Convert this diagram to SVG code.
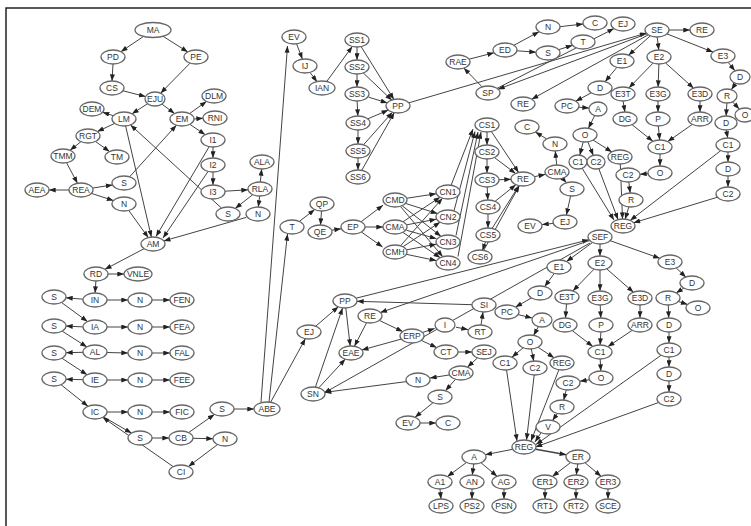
<svg xmlns="http://www.w3.org/2000/svg" width="751" height="526" viewBox="0 0 751 526">
<defs>
<style>
.n ellipse{fill:#fff;stroke:#666;stroke-width:1.3}
.n text{font-family:"Liberation Sans",Arial,sans-serif;font-size:8.5px;fill:#333;text-anchor:middle}
#edges path{fill:none;stroke:#444;stroke-width:1;marker-end:url(#ah)}
</style>
<marker id="ah" viewBox="0 0 8 6" refX="8" refY="3" markerWidth="7" markerHeight="5" orient="auto" markerUnits="userSpaceOnUse"><path d="M0,0 L8,3 L0,6 z" fill="#222"/></marker>
</defs>
<rect x="0" y="0" width="751" height="526" fill="#fff"/>
<rect x="6" y="8" width="800" height="600" fill="none" stroke="#222" stroke-width="1.5"/>
<g id="edges">
<path d="M143.6,36.4L120.9,51.7"/><path d="M163,36.3L187.8,51.9"/><path d="M113,64L112,81"/>
<path d="M123,90.8L145.6,96.6"/><path d="M190.1,63.1L160.6,93.2"/><path d="M147.6,103.7L132,113.8"/>
<path d="M161.9,104.1L174.6,113.5"/><path d="M113.4,115.7L102.6,112.3"/><path d="M114.7,123.4L97.3,131.6"/>
<path d="M80.9,141.7L70.1,150.3"/><path d="M95.5,141.5L109.5,151.5"/><path d="M66.5,162.7L77.5,183.3"/>
<path d="M69,190L49,190"/><path d="M92.5,188.1L112.5,184.9"/><path d="M91.5,193.4L113.5,200.6"/>
<path d="M189.5,113.6L206.5,101.4"/><path d="M194,119L203,118.2"/><path d="M189.8,124.3L205.2,134.7"/>
<path d="M213,147L213,158"/><path d="M213,172L213,185"/><path d="M225,191.2L248,189.8"/>
<path d="M260.3,182L261.7,169"/><path d="M252.8,194.6L235.2,208.4"/><path d="M259.7,196L258.3,207"/>
<path d="M129.6,176.8L176.4,125.2"/><path d="M125.6,125.9L151.4,237.1"/><path d="M221.5,208.1L130.5,124.9"/>
<path d="M128.7,210.4L148.3,237.6"/><path d="M209.2,146.6L156,236.5"/><path d="M208.1,171.4L163,238"/>
<path d="M246.2,217.4L163.8,240.9"/><path d="M144.1,248.7L104.9,269.3"/><path d="M108,274L124,274"/>
<path d="M95.9,281L95.1,293"/><path d="M83,299.2L66,297.8"/><path d="M107,300L128,300"/><path d="M152,300L170,300"/>
<path d="M61.5,302.5L87.5,321.5"/><path d="M83,326.9L66,326.1"/><path d="M107,327L128,327"/><path d="M152,327L170,327"/>
<path d="M62.1,331.1L86.9,346.9"/><path d="M83,352.3L66,352.7"/><path d="M107,352.5L128,353"/><path d="M152,353L170,353"/>
<path d="M61.9,358.2L87.1,374.8"/><path d="M83,379.7L66,379.3"/><path d="M107,380L128,380"/><path d="M152,380L170,380"/>
<path d="M61,384.7L88,406.3"/><path d="M107,412L128,412"/><path d="M152,412L170,412"/>
<path d="M103.5,416.9L131.5,433.1"/><path d="M152,438L169,438"/><path d="M188.6,432.6L214.4,414.4"/>
<path d="M193,438.3L213,438.7"/><path d="M217.6,444.5L188.4,466.5"/><path d="M173.3,466.7L102.7,417.3"/>
<path d="M234,409L254,409"/><path d="M261,402L287.5,46"/><path d="M269,402L287.5,234"/><path d="M270.6,402.3L305.4,338.7"/>
<path d="M296.6,43.9L302.4,59.1"/><path d="M309.9,72.3L317.1,81.7"/><path d="M326.7,81.5L352.3,46.5"/>
<path d="M357,47L357,60"/><path d="M357,74L357,87"/><path d="M357.1,101L357.9,116"/><path d="M358,130L358,144"/><path d="M358,158L358,170"/>
<path d="M361.1,46.6L393.9,99.4"/><path d="M363.1,72.8L391.9,100.2"/><path d="M368.7,97.2L387.3,102.9"/>
<path d="M367.7,118.9L388.3,110.1"/><path d="M363.5,144.8L392.5,112.2"/><path d="M361.7,170.4L394.3,112.6"/>
<path d="M408.6,102.9L646.4,33.1"/><path d="M646.9,33.8L498.1,89.2"/><path d="M497,88.4L614,28.6"/>
<path d="M482.2,87L463.8,68"/><path d="M469,59.2L494,52.8"/><path d="M513.9,45.3L539.1,31.7"/><path d="M517,50.8L536,52.2"/>
<path d="M560,26.7L583,24"/><path d="M558.5,49.7L572.5,45.3"/><path d="M669,30L690,30"/><path d="M648.3,34.8L531.7,99.2"/>
<path d="M650.5,35.7L628.5,55.3"/><path d="M657.2,37L658.8,50"/><path d="M667,33.9L713,52.1"/>
<path d="M728.1,62.3L734.9,70.7"/><path d="M735.6,83.4L731.4,89.6"/><path d="M732.7,102L739.3,109"/>
<path d="M726.9,103L726.1,116"/><path d="M726.2,130L727.8,138"/><path d="M728,152L728,162"/><path d="M728,176L728,187"/>
<path d="M616.9,67.3L605.1,81.7"/><path d="M591.3,92.8L575.7,101.2"/><path d="M579,107.2L589,108.1"/>
<path d="M594.7,115.5L588.4,128.3"/><path d="M583.2,141.8L579.8,155.2"/><path d="M587.8,141.7L593.3,155.4"/><path d="M593.1,140.1L611.9,151.9"/>
<path d="M653.1,63.1L628.9,87.9"/><path d="M658.9,64L658.1,87"/><path d="M665.4,62.8L693.6,88.2"/>
<path d="M623.1,101L624.9,112"/><path d="M658,101L658,112"/><path d="M700,101L700,112"/>
<path d="M632.1,124.7L652.9,141.3"/><path d="M658.3,126L659.7,140"/><path d="M692.3,124.4L667.7,141.6"/>
<path d="M660,154L660,166"/><path d="M648,173.7L640,174.3"/><path d="M628.8,182L630.2,193"/><path d="M628.9,206.7L625.1,219.3"/>
<path d="M582,168L614,220"/><path d="M598.7,168.4L618,219.5"/><path d="M620.3,164L622.5,219"/>
<path d="M720.8,150.6L630.2,220.4"/><path d="M717.5,197.2L633.5,222.8"/>
<path d="M299.3,221.4L314.7,209.6"/><path d="M321.5,211L320.5,225"/><path d="M332,230.2L341,228.8"/>
<path d="M361,221.8L383,205.2"/><path d="M365,227L383,227"/><path d="M361.4,232L382.6,247"/>
<path d="M406.9,198.2L436.1,193.8"/><path d="M405.5,203.4L437.5,213.6"/><path d="M402.1,205.7L440.9,236.3"/><path d="M400.3,206.3L442.7,256.7"/>
<path d="M402.9,221.8L440.1,197.2"/><path d="M406.8,224.8L436.2,219.2"/><path d="M406.6,230.3L436.4,238.7"/><path d="M402.8,232.3L440.2,257.7"/>
<path d="M400.5,245.8L442.5,198.2"/><path d="M402.9,246.8L440.1,222.2"/><path d="M406.8,249.8L436.2,244.2"/><path d="M406.7,254.4L436.3,260.6"/>
<path d="M451,185.5L473,129"/><path d="M454,210.8L475,131.5"/><path d="M456,235.5L478,132"/><path d="M458,256.5L481,132"/>
<path d="M487,132L487,145"/><path d="M487,159L487,173"/><path d="M487.2,187L487.8,200"/><path d="M488,214L488,228"/><path d="M485.6,241.6L482.4,250.4"/>
<path d="M491.4,131.5L518.6,172.5"/><path d="M494.4,157.5L515.6,173.5"/><path d="M499,179.7L511,179.3"/>
<path d="M495.1,201.3L515.9,184.7"/><path d="M492.1,228.4L518.9,185.6"/><path d="M483.7,250.3L519.3,185.7"/>
<path d="M534.8,176.6L545.2,174.4"/><path d="M556.7,165L555.3,151"/><path d="M546.6,138.9L535.4,132.1"/>
<path d="M562.5,178.2L566.5,182.8"/><path d="M570.6,195.9L566.4,215.1"/><path d="M553,223.4L542,224.6"/>
<path d="M592.5,242.5L566.5,261.5"/><path d="M600,244L600,256"/><path d="M610.2,240.7L659.8,258.3"/>
<path d="M676.1,267.8L685.9,277.2"/><path d="M683.9,288.1L676.1,292.9"/><path d="M678.4,301.5L687.6,304.5"/>
<path d="M668.3,305L668.7,318"/><path d="M669,332L669,343"/><path d="M669,357L669,367"/><path d="M669,381L669,392"/>
<path d="M554.3,273.4L544.7,286.6"/><path d="M531.5,297.9L515.5,307.1"/><path d="M518.2,314.6L532,318"/>
<path d="M538.6,326.2L533.6,335.4"/><path d="M523.1,347.8L511.9,357.2"/><path d="M531.3,348.9L533.7,361.1"/><path d="M537.9,347.2L554.1,357.8"/>
<path d="M594.1,269.1L572.9,290.9"/><path d="M600,270L600,291"/><path d="M606.5,268.7L633.5,292.3"/>
<path d="M566.5,304L565.5,318"/><path d="M600.2,305L600.8,318"/><path d="M640,305L640,318"/>
<path d="M572.2,330.6L592.8,346.4"/><path d="M600.9,332L600.1,345"/><path d="M632.2,330.3L607.8,346.7"/>
<path d="M600.2,359L600.8,371"/><path d="M589.1,379.8L579.9,381.2"/><path d="M566.3,389.8L563.7,400.2"/>
<path d="M557.5,413.4L552.5,420.6"/><path d="M541.1,432.7L535,442"/>
<path d="M506.5,369.8L517,441"/><path d="M534.2,375L526.5,440"/><path d="M559,369.5L531,441"/>
<path d="M661.2,355.2L536,444.5"/><path d="M658.6,402.5L535.5,447"/>
<path d="M512.7,449.3L485.3,454.7"/><path d="M535.7,449.2L566.3,454.8" style="stroke-width:1.6"/>
<path d="M466.6,462.4L447.4,476.6"/><path d="M473.7,464L472.3,475"/><path d="M480.9,462.7L497.1,476.3"/>
<path d="M440,489L441,499"/><path d="M472,489L472,499"/><path d="M504,489L504,499"/>
<path d="M570.7,462.5L552.3,476.5"/><path d="M577.7,464L576.3,475"/><path d="M584.9,462.7L601.1,476.3"/>
<path d="M545,489L545,499"/><path d="M576,489L576,499"/><path d="M608,489L608,499"/>
<path d="M315.6,326.3L338.4,306.7"/><path d="M315.4,387.1L342.6,307.9"/><path d="M318.7,387.9L345.3,359.1"/>
<path d="M345.8,308L350.2,346"/><path d="M366.6,322.7L354.4,346.3"/><path d="M379.3,320.4L402.7,331.6"/>
<path d="M401.2,339.1L361.8,350"/><path d="M422.4,332.5L434.6,328.5"/><path d="M421.3,340.4L436.7,347.6"/>
<path d="M456,327.2L468,329.6"/><path d="M481,325L483,312"/><path d="M472,304.7L357,301.3"/>
<path d="M458,352L472,352"/><path d="M477.5,357.9L467.5,367.1"/><path d="M449,375L430,378"/>
<path d="M406.3,381.6L324.7,392.4"/><path d="M455.5,379.3L445.5,390.7"/><path d="M433,402.7L415,417.3"/><path d="M420,423L436,423"/>
<path d="M356.1,298.2L588.9,239.8"/><path d="M589.7,240.5L380.3,312.5"/><path d="M590,243L324,393"/>
</g>
<g id="MA" class="n"><ellipse cx="153" cy="30" rx="18" ry="7.5"/><text x="153" y="33">MA</text></g>
<g id="PD" class="n"><ellipse cx="113" cy="57" rx="12" ry="7"/><text x="113" y="60">PD</text></g>
<g id="PE" class="n"><ellipse cx="196" cy="57" rx="12" ry="7"/><text x="196" y="60">PE</text></g>
<g id="CS" class="n"><ellipse cx="112" cy="88" rx="12" ry="7"/><text x="112" y="91">CS</text></g>
<g id="EJU" class="n"><ellipse cx="155" cy="99" rx="10" ry="7"/><text x="155" y="102">EJU</text></g>
<g id="DEM" class="n"><ellipse cx="92" cy="109" rx="12" ry="7"/><text x="92" y="112">DEM</text></g>
<g id="LM" class="n"><ellipse cx="124" cy="119" rx="12" ry="7"/><text x="124" y="122">LM</text></g>
<g id="EM" class="n"><ellipse cx="182" cy="119" rx="12" ry="7"/><text x="182" y="122">EM</text></g>
<g id="DLM" class="n"><ellipse cx="214" cy="96" rx="12" ry="7"/><text x="214" y="99">DLM</text></g>
<g id="RNI" class="n"><ellipse cx="215" cy="118" rx="12" ry="7"/><text x="215" y="121">RNI</text></g>
<g id="I1" class="n"><ellipse cx="213" cy="140" rx="12" ry="7"/><text x="213" y="143">I1</text></g>
<g id="I2" class="n"><ellipse cx="213" cy="165" rx="12" ry="7"/><text x="213" y="168">I2</text></g>
<g id="I3" class="n"><ellipse cx="213" cy="192" rx="12" ry="7"/><text x="213" y="195">I3</text></g>
<g id="ALA" class="n"><ellipse cx="262" cy="162" rx="12" ry="7"/><text x="262" y="165">ALA</text></g>
<g id="RLA" class="n"><ellipse cx="260" cy="189" rx="12" ry="7"/><text x="260" y="192">RLA</text></g>
<g id="S_rla" class="n"><ellipse cx="228" cy="214" rx="12" ry="7"/><text x="228" y="217">S</text></g>
<g id="N_rla" class="n"><ellipse cx="258" cy="214" rx="12" ry="7"/><text x="258" y="217">N</text></g>
<g id="RGT" class="n"><ellipse cx="88" cy="136" rx="12" ry="7"/><text x="88" y="139">RGT</text></g>
<g id="TMM" class="n"><ellipse cx="63" cy="156" rx="12" ry="7"/><text x="63" y="159">TMM</text></g>
<g id="TM" class="n"><ellipse cx="117" cy="157" rx="12" ry="7"/><text x="117" y="160">TM</text></g>
<g id="REA" class="n"><ellipse cx="81" cy="190" rx="12" ry="7"/><text x="81" y="193">REA</text></g>
<g id="AEA" class="n"><ellipse cx="37" cy="190" rx="12" ry="7"/><text x="37" y="193">AEA</text></g>
<g id="S_rea" class="n"><ellipse cx="124" cy="183" rx="12" ry="7"/><text x="124" y="186">S</text></g>
<g id="N_rea" class="n"><ellipse cx="124" cy="204" rx="12" ry="7"/><text x="124" y="207">N</text></g>
<g id="AM" class="n"><ellipse cx="153" cy="244" rx="12" ry="7"/><text x="153" y="247">AM</text></g>
<g id="RD" class="n"><ellipse cx="96" cy="274" rx="12" ry="7"/><text x="96" y="277">RD</text></g>
<g id="VNLE" class="n"><ellipse cx="138" cy="274" rx="14" ry="7"/><text x="138" y="277">VNLE</text></g>
<g id="IN" class="n"><ellipse cx="95" cy="300" rx="12" ry="7"/><text x="95" y="303">IN</text></g>
<g id="S_in" class="n"><ellipse cx="54" cy="297" rx="12" ry="7"/><text x="54" y="300">S</text></g>
<g id="N_in" class="n"><ellipse cx="140" cy="300" rx="12" ry="7"/><text x="140" y="303">N</text></g>
<g id="FEN" class="n"><ellipse cx="182" cy="300" rx="12" ry="7"/><text x="182" y="303">FEN</text></g>
<g id="IA" class="n"><ellipse cx="95" cy="327" rx="12" ry="7"/><text x="95" y="330">IA</text></g>
<g id="S_ia" class="n"><ellipse cx="54" cy="326" rx="12" ry="7"/><text x="54" y="329">S</text></g>
<g id="N_ia" class="n"><ellipse cx="140" cy="327" rx="12" ry="7"/><text x="140" y="330">N</text></g>
<g id="FEA" class="n"><ellipse cx="182" cy="327" rx="12" ry="7"/><text x="182" y="330">FEA</text></g>
<g id="AL" class="n"><ellipse cx="95" cy="352" rx="12" ry="7"/><text x="95" y="355">AL</text></g>
<g id="S_al" class="n"><ellipse cx="54" cy="353" rx="12" ry="7"/><text x="54" y="356">S</text></g>
<g id="N_al" class="n"><ellipse cx="140" cy="353" rx="12" ry="7"/><text x="140" y="356">N</text></g>
<g id="FAL" class="n"><ellipse cx="182" cy="353" rx="12" ry="7"/><text x="182" y="356">FAL</text></g>
<g id="IE" class="n"><ellipse cx="95" cy="380" rx="12" ry="7"/><text x="95" y="383">IE</text></g>
<g id="S_ie" class="n"><ellipse cx="54" cy="379" rx="12" ry="7"/><text x="54" y="382">S</text></g>
<g id="N_ie" class="n"><ellipse cx="140" cy="380" rx="12" ry="7"/><text x="140" y="383">N</text></g>
<g id="FEE" class="n"><ellipse cx="182" cy="380" rx="12" ry="7"/><text x="182" y="383">FEE</text></g>
<g id="IC" class="n"><ellipse cx="95" cy="412" rx="12" ry="7"/><text x="95" y="415">IC</text></g>
<g id="N_ic" class="n"><ellipse cx="140" cy="412" rx="12" ry="7"/><text x="140" y="415">N</text></g>
<g id="FIC" class="n"><ellipse cx="182" cy="412" rx="12" ry="7"/><text x="182" y="415">FIC</text></g>
<g id="S_cb" class="n"><ellipse cx="140" cy="438" rx="12" ry="7"/><text x="140" y="441">S</text></g>
<g id="CB" class="n"><ellipse cx="181" cy="438" rx="12" ry="7"/><text x="181" y="441">CB</text></g>
<g id="CI" class="n"><ellipse cx="181" cy="472" rx="12" ry="7"/><text x="181" y="475">CI</text></g>
<g id="S_abe" class="n"><ellipse cx="222" cy="409" rx="12" ry="7"/><text x="222" y="412">S</text></g>
<g id="N_cb" class="n"><ellipse cx="225" cy="439" rx="12" ry="7"/><text x="225" y="442">N</text></g>
<g id="ABE" class="n"><ellipse cx="267" cy="409" rx="13" ry="7"/><text x="267" y="412">ABE</text></g>
<g id="EV_top" class="n"><ellipse cx="294" cy="37" rx="12" ry="7"/><text x="294" y="40">EV</text></g>
<g id="IJ" class="n"><ellipse cx="305" cy="66" rx="12" ry="7"/><text x="305" y="69">IJ</text></g>
<g id="IAN" class="n"><ellipse cx="322" cy="88" rx="13" ry="7"/><text x="322" y="91">IAN</text></g>
<g id="SS1" class="n"><ellipse cx="357" cy="40" rx="12" ry="7"/><text x="357" y="43">SS1</text></g>
<g id="SS2" class="n"><ellipse cx="357" cy="67" rx="12" ry="7"/><text x="357" y="70">SS2</text></g>
<g id="SS3" class="n"><ellipse cx="357" cy="94" rx="12" ry="7"/><text x="357" y="97">SS3</text></g>
<g id="SS4" class="n"><ellipse cx="358" cy="123" rx="12" ry="7"/><text x="358" y="126">SS4</text></g>
<g id="SS5" class="n"><ellipse cx="358" cy="151" rx="12" ry="7"/><text x="358" y="154">SS5</text></g>
<g id="SS6" class="n"><ellipse cx="358" cy="177" rx="12" ry="7"/><text x="358" y="180">SS6</text></g>
<g id="PP_top" class="n"><ellipse cx="398" cy="106" rx="12" ry="7"/><text x="398" y="109">PP</text></g>
<g id="T_qp" class="n"><ellipse cx="292" cy="227" rx="12" ry="7"/><text x="292" y="230">T</text></g>
<g id="QP" class="n"><ellipse cx="322" cy="204" rx="12" ry="7"/><text x="322" y="207">QP</text></g>
<g id="QE" class="n"><ellipse cx="320" cy="232" rx="12" ry="7"/><text x="320" y="235">QE</text></g>
<g id="EP" class="n"><ellipse cx="353" cy="227" rx="12" ry="7"/><text x="353" y="230">EP</text></g>
<g id="CMD" class="n"><ellipse cx="395" cy="200" rx="12" ry="7"/><text x="395" y="203">CMD</text></g>
<g id="CMA_c" class="n"><ellipse cx="395" cy="227" rx="12" ry="7"/><text x="395" y="230">CMA</text></g>
<g id="CMH" class="n"><ellipse cx="395" cy="252" rx="12" ry="7"/><text x="395" y="255">CMH</text></g>
<g id="CN1" class="n"><ellipse cx="448" cy="192" rx="12" ry="7"/><text x="448" y="195">CN1</text></g>
<g id="CN2" class="n"><ellipse cx="448" cy="217" rx="12" ry="7"/><text x="448" y="220">CN2</text></g>
<g id="CN3" class="n"><ellipse cx="448" cy="242" rx="12" ry="7"/><text x="448" y="245">CN3</text></g>
<g id="CN4" class="n"><ellipse cx="448" cy="263" rx="12" ry="7"/><text x="448" y="266">CN4</text></g>
<g id="CS1" class="n"><ellipse cx="487" cy="125" rx="12" ry="7"/><text x="487" y="128">CS1</text></g>
<g id="CS2" class="n"><ellipse cx="487" cy="152" rx="12" ry="7"/><text x="487" y="155">CS2</text></g>
<g id="CS3" class="n"><ellipse cx="487" cy="180" rx="12" ry="7"/><text x="487" y="183">CS3</text></g>
<g id="CS4" class="n"><ellipse cx="488" cy="207" rx="12" ry="7"/><text x="488" y="210">CS4</text></g>
<g id="CS5" class="n"><ellipse cx="488" cy="235" rx="12" ry="7"/><text x="488" y="238">CS5</text></g>
<g id="CS6" class="n"><ellipse cx="480" cy="257" rx="12" ry="7"/><text x="480" y="260">CS6</text></g>
<g id="RE_cs" class="n"><ellipse cx="523" cy="179" rx="12" ry="7"/><text x="523" y="182">RE</text></g>
<g id="CMA_r" class="n"><ellipse cx="557" cy="172" rx="12" ry="7"/><text x="557" y="175">CMA</text></g>
<g id="N_cma" class="n"><ellipse cx="555" cy="144" rx="12" ry="7"/><text x="555" y="147">N</text></g>
<g id="C_cma" class="n"><ellipse cx="527" cy="127" rx="12" ry="7"/><text x="527" y="130">C</text></g>
<g id="S_cma" class="n"><ellipse cx="572" cy="189" rx="12" ry="7"/><text x="572" y="192">S</text></g>
<g id="EJ_cma" class="n"><ellipse cx="565" cy="222" rx="12" ry="7"/><text x="565" y="225">EJ</text></g>
<g id="EV_cma" class="n"><ellipse cx="530" cy="226" rx="12" ry="7"/><text x="530" y="229">EV</text></g>
<g id="RAE" class="n"><ellipse cx="458" cy="62" rx="12" ry="7"/><text x="458" y="65">RAE</text></g>
<g id="ED" class="n"><ellipse cx="505" cy="50" rx="12" ry="7"/><text x="505" y="53">ED</text></g>
<g id="N_ed" class="n"><ellipse cx="548" cy="27" rx="12" ry="7"/><text x="548" y="30">N</text></g>
<g id="S_ed" class="n"><ellipse cx="548" cy="53" rx="12" ry="7"/><text x="548" y="56">S</text></g>
<g id="C_ed" class="n"><ellipse cx="595" cy="23" rx="12" ry="7"/><text x="595" y="26">C</text></g>
<g id="EJ_se" class="n"><ellipse cx="623" cy="24" rx="12" ry="7"/><text x="623" y="27">EJ</text></g>
<g id="T_ed" class="n"><ellipse cx="583" cy="42" rx="12" ry="7"/><text x="583" y="45">T</text></g>
<g id="SP" class="n"><ellipse cx="488" cy="93" rx="12" ry="7"/><text x="488" y="96">SP</text></g>
<g id="RE_se" class="n"><ellipse cx="523" cy="104" rx="12" ry="7"/><text x="523" y="107">RE</text></g>
<g id="SE" class="n"><ellipse cx="657" cy="30" rx="12" ry="7"/><text x="657" y="33">SE</text></g>
<g id="RE_r" class="n"><ellipse cx="702" cy="30" rx="12" ry="7"/><text x="702" y="33">RE</text></g>
<g id="E1a" class="n"><ellipse cx="622" cy="61" rx="12" ry="7"/><text x="622" y="64">E1</text></g>
<g id="E2a" class="n"><ellipse cx="659" cy="57" rx="12" ry="7"/><text x="659" y="60">E2</text></g>
<g id="E3a" class="n"><ellipse cx="723" cy="56" rx="12" ry="7"/><text x="723" y="59">E3</text></g>
<g id="Da" class="n"><ellipse cx="740" cy="77" rx="10" ry="7"/><text x="740" y="80">D</text></g>
<g id="Db" class="n"><ellipse cx="600" cy="88" rx="12" ry="7"/><text x="600" y="91">D</text></g>
<g id="PCa" class="n"><ellipse cx="567" cy="106" rx="12" ry="7"/><text x="567" y="109">PC</text></g>
<g id="Aa" class="n"><ellipse cx="598" cy="109" rx="9" ry="7"/><text x="598" y="112">A</text></g>
<g id="Oa" class="n"><ellipse cx="585" cy="135" rx="12" ry="7"/><text x="585" y="138">O</text></g>
<g id="C1a" class="n"><ellipse cx="578" cy="162" rx="9" ry="7"/><text x="578" y="165">C1</text></g>
<g id="C2a" class="n"><ellipse cx="596" cy="162" rx="9" ry="7"/><text x="596" y="165">C2</text></g>
<g id="REGa" class="n"><ellipse cx="620" cy="157" rx="12" ry="7"/><text x="620" y="160">REG</text></g>
<g id="E3Ta" class="n"><ellipse cx="623" cy="94" rx="12" ry="7"/><text x="623" y="97">E3T</text></g>
<g id="E3Ga" class="n"><ellipse cx="658" cy="94" rx="12" ry="7"/><text x="658" y="97">E3G</text></g>
<g id="E3Da" class="n"><ellipse cx="700" cy="94" rx="12" ry="7"/><text x="700" y="97">E3D</text></g>
<g id="Ra" class="n"><ellipse cx="727" cy="96" rx="10" ry="7"/><text x="727" y="99">R</text></g>
<g id="Oa2" class="n"><ellipse cx="745" cy="115" rx="10" ry="7"/><text x="745" y="118">O</text></g>
<g id="DGa" class="n"><ellipse cx="625" cy="119" rx="12" ry="7"/><text x="625" y="122">DG</text></g>
<g id="Pa" class="n"><ellipse cx="658" cy="119" rx="12" ry="7"/><text x="658" y="122">P</text></g>
<g id="ARRa" class="n"><ellipse cx="700" cy="119" rx="12" ry="7"/><text x="700" y="122">ARR</text></g>
<g id="Dc" class="n"><ellipse cx="726" cy="123" rx="11" ry="7"/><text x="726" y="126">D</text></g>
<g id="C1b" class="n"><ellipse cx="660" cy="147" rx="12" ry="7"/><text x="660" y="150">C1</text></g>
<g id="C1c" class="n"><ellipse cx="728" cy="145" rx="12" ry="7"/><text x="728" y="148">C1</text></g>
<g id="Ob" class="n"><ellipse cx="660" cy="173" rx="12" ry="7"/><text x="660" y="176">O</text></g>
<g id="C2b" class="n"><ellipse cx="628" cy="175" rx="12" ry="7"/><text x="628" y="178">C2</text></g>
<g id="Dd" class="n"><ellipse cx="728" cy="169" rx="12" ry="7"/><text x="728" y="172">D</text></g>
<g id="Rb" class="n"><ellipse cx="631" cy="200" rx="12" ry="7"/><text x="631" y="203">R</text></g>
<g id="C2c" class="n"><ellipse cx="728" cy="194" rx="12" ry="7"/><text x="728" y="197">C2</text></g>
<g id="REGb" class="n"><ellipse cx="623" cy="226" rx="12" ry="7"/><text x="623" y="229">REG</text></g>
<g id="SEF" class="n"><ellipse cx="600" cy="237" rx="12" ry="7"/><text x="600" y="240">SEF</text></g>
<g id="E1b" class="n"><ellipse cx="559" cy="267" rx="12" ry="7"/><text x="559" y="270">E1</text></g>
<g id="E2b" class="n"><ellipse cx="600" cy="263" rx="12" ry="7"/><text x="600" y="266">E2</text></g>
<g id="E3b" class="n"><ellipse cx="670" cy="262" rx="12" ry="7"/><text x="670" y="265">E3</text></g>
<g id="De" class="n"><ellipse cx="692" cy="283" rx="12" ry="7"/><text x="692" y="286">D</text></g>
<g id="Rc" class="n"><ellipse cx="668" cy="298" rx="12" ry="7"/><text x="668" y="301">R</text></g>
<g id="Oc" class="n"><ellipse cx="698" cy="308" rx="12" ry="7"/><text x="698" y="311">O</text></g>
<g id="E3Tb" class="n"><ellipse cx="567" cy="297" rx="12" ry="7"/><text x="567" y="300">E3T</text></g>
<g id="E3Gb" class="n"><ellipse cx="600" cy="298" rx="12" ry="7"/><text x="600" y="301">E3G</text></g>
<g id="E3Db" class="n"><ellipse cx="640" cy="298" rx="12" ry="7"/><text x="640" y="301">E3D</text></g>
<g id="Df" class="n"><ellipse cx="540" cy="293" rx="12" ry="7"/><text x="540" y="296">D</text></g>
<g id="PCb" class="n"><ellipse cx="507" cy="312" rx="12" ry="7"/><text x="507" y="315">PC</text></g>
<g id="Ab" class="n"><ellipse cx="542" cy="320" rx="10" ry="7"/><text x="542" y="323">A</text></g>
<g id="DGb" class="n"><ellipse cx="565" cy="325" rx="12" ry="7"/><text x="565" y="328">DG</text></g>
<g id="Ob2" class="n"><ellipse cx="530" cy="342" rx="12" ry="7"/><text x="530" y="345">O</text></g>
<g id="Pb" class="n"><ellipse cx="601" cy="325" rx="12" ry="7"/><text x="601" y="328">P</text></g>
<g id="ARRb" class="n"><ellipse cx="640" cy="325" rx="12" ry="7"/><text x="640" y="328">ARR</text></g>
<g id="Dg" class="n"><ellipse cx="669" cy="325" rx="12" ry="7"/><text x="669" y="328">D</text></g>
<g id="C1d" class="n"><ellipse cx="600" cy="352" rx="12" ry="7"/><text x="600" y="355">C1</text></g>
<g id="C1e" class="n"><ellipse cx="669" cy="350" rx="12" ry="7"/><text x="669" y="353">C1</text></g>
<g id="Od" class="n"><ellipse cx="601" cy="378" rx="12" ry="7"/><text x="601" y="381">O</text></g>
<g id="Dh" class="n"><ellipse cx="669" cy="374" rx="12" ry="7"/><text x="669" y="377">D</text></g>
<g id="C2d" class="n"><ellipse cx="669" cy="399" rx="12" ry="7"/><text x="669" y="402">C2</text></g>
<g id="C2e" class="n"><ellipse cx="568" cy="383" rx="12" ry="7"/><text x="568" y="386">C2</text></g>
<g id="Rd" class="n"><ellipse cx="562" cy="407" rx="12" ry="7"/><text x="562" y="410">R</text></g>
<g id="V" class="n"><ellipse cx="548" cy="427" rx="12" ry="7"/><text x="548" y="430">V</text></g>
<g id="C1f" class="n"><ellipse cx="505" cy="363" rx="12" ry="7"/><text x="505" y="366">C1</text></g>
<g id="C2f" class="n"><ellipse cx="535" cy="368" rx="12" ry="7"/><text x="535" y="371">C2</text></g>
<g id="REGc" class="n"><ellipse cx="562" cy="363" rx="12" ry="7"/><text x="562" y="366">REG</text></g>
<g id="REGd" class="n"><ellipse cx="524" cy="447" rx="12" ry="7"/><text x="524" y="450">REG</text></g>
<g id="Ac" class="n"><ellipse cx="474" cy="457" rx="12" ry="7"/><text x="474" y="460">A</text></g>
<g id="ER" class="n"><ellipse cx="578" cy="457" rx="12" ry="7"/><text x="578" y="460">ER</text></g>
<g id="A1" class="n"><ellipse cx="440" cy="482" rx="12" ry="7"/><text x="440" y="485">A1</text></g>
<g id="AN" class="n"><ellipse cx="472" cy="482" rx="12" ry="7"/><text x="472" y="485">AN</text></g>
<g id="AG" class="n"><ellipse cx="504" cy="482" rx="12" ry="7"/><text x="504" y="485">AG</text></g>
<g id="LPS" class="n"><ellipse cx="441" cy="506" rx="12" ry="7"/><text x="441" y="509">LPS</text></g>
<g id="PS2" class="n"><ellipse cx="472" cy="506" rx="12" ry="7"/><text x="472" y="509">PS2</text></g>
<g id="PSN" class="n"><ellipse cx="504" cy="506" rx="12" ry="7"/><text x="504" y="509">PSN</text></g>
<g id="ER1" class="n"><ellipse cx="545" cy="482" rx="12" ry="7"/><text x="545" y="485">ER1</text></g>
<g id="ER2" class="n"><ellipse cx="576" cy="482" rx="12" ry="7"/><text x="576" y="485">ER2</text></g>
<g id="ER3" class="n"><ellipse cx="608" cy="482" rx="12" ry="7"/><text x="608" y="485">ER3</text></g>
<g id="RT1" class="n"><ellipse cx="545" cy="506" rx="12" ry="7"/><text x="545" y="509">RT1</text></g>
<g id="RT2" class="n"><ellipse cx="576" cy="506" rx="12" ry="7"/><text x="576" y="509">RT2</text></g>
<g id="SCE" class="n"><ellipse cx="608" cy="506" rx="12" ry="7"/><text x="608" y="509">SCE</text></g>
<g id="PP_low" class="n"><ellipse cx="345" cy="301" rx="12" ry="7"/><text x="345" y="304">PP</text></g>
<g id="RE_low" class="n"><ellipse cx="370" cy="316" rx="12" ry="7"/><text x="370" y="319">RE</text></g>
<g id="EJ_low" class="n"><ellipse cx="309" cy="332" rx="12" ry="7"/><text x="309" y="335">EJ</text></g>
<g id="EAE" class="n"><ellipse cx="351" cy="353" rx="12" ry="7"/><text x="351" y="356">EAE</text></g>
<g id="SN" class="n"><ellipse cx="313" cy="394" rx="12" ry="7"/><text x="313" y="397">SN</text></g>
<g id="SI" class="n"><ellipse cx="484" cy="305" rx="12" ry="7"/><text x="484" y="308">SI</text></g>
<g id="I" class="n"><ellipse cx="445" cy="325" rx="10" ry="7"/><text x="445" y="328">I</text></g>
<g id="RT" class="n"><ellipse cx="480" cy="332" rx="12" ry="7"/><text x="480" y="335">RT</text></g>
<g id="ERP" class="n"><ellipse cx="412" cy="336" rx="12" ry="7"/><text x="412" y="339">ERP</text></g>
<g id="CT" class="n"><ellipse cx="446" cy="352" rx="12" ry="7"/><text x="446" y="355">CT</text></g>
<g id="SEJ" class="n"><ellipse cx="484" cy="352" rx="12" ry="7"/><text x="484" y="355">SEJ</text></g>
<g id="CMA_low" class="n"><ellipse cx="461" cy="373" rx="12" ry="7"/><text x="461" y="376">CMA</text></g>
<g id="N_low" class="n"><ellipse cx="418" cy="380" rx="12" ry="7"/><text x="418" y="383">N</text></g>
<g id="S_low" class="n"><ellipse cx="440" cy="397" rx="12" ry="7"/><text x="440" y="400">S</text></g>
<g id="EV_low" class="n"><ellipse cx="408" cy="423" rx="12" ry="7"/><text x="408" y="426">EV</text></g>
<g id="C_low" class="n"><ellipse cx="448" cy="423" rx="12" ry="7"/><text x="448" y="426">C</text></g>
</svg>
